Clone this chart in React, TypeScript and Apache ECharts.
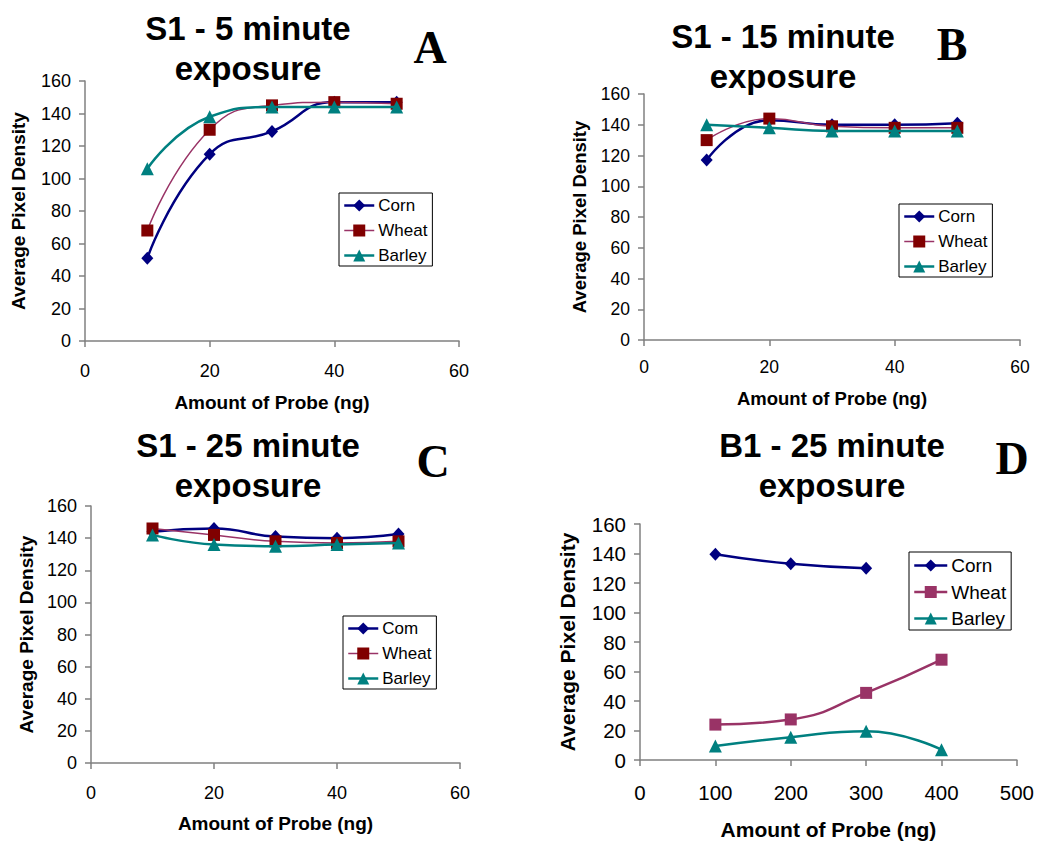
import React, { useEffect, useRef } from "react";
import * as echarts from "echarts";

// ---- Data ----
const probeS1 = [10, 20, 30, 40, 50];
const probeB1 = [100, 200, 300, 400];

const cornA = [51, 115, 129, 147, 147];
const wheatA = [68, 130, 145, 147, 146];
const barleyA = [106, 138, 144, 144, 144];

const cornB = [117, 143, 140, 140, 141];
const wheatB = [130, 144, 139, 138, 138];
const barleyB = [140, 138, 136, 136, 136];

const cornC = [144, 146, 141, 140, 142.5];
const wheatC = [146, 142, 138, 137, 138];
const barleyC = [142, 136, 135, 136, 137];

const cornD = [139.5, 133, 130];
const wheatD = [24, 27.5, 45.5, 68];
const barleyD = [9.5, 15.5, 19.5, 7];

const yTicksMax = 160;
const xMaxS1 = 60;
const xMaxB1 = 500;

const FONT = '"Liberation Sans", Arial, sans-serif';
const SERIF = '"Liberation Serif", "Times New Roman", serif';

const NAVY = "#000080";
const DARKRED = "#800000";
const PLUM = "#993366";
const TEAL = "#008080";

const pairs = (xs: number[], ys: number[]) => ys.map((y, i) => [xs[i], y]);

type Panel = {
  title1: string;
  title2: string;
  letter: string;
  tx: number;
  ty1: number;
  ty2: number;
  lx: number;
  ly: number;
  grid: { left: number; top: number; width: number; height: number };
  xMax: number;
  xInterval: number;
  tickFont: number;
  nameFont: number;
  xLabelMargin: number;
  xNameGap: number;
  yNameGap: number;
  legend: { left: number; top: number; font: number; iconW: number; gap: number };
  names: string[];
  xs: number[];
  corn: number[];
  wheat: number[];
  barley: number[];
  wheatMarker: string;
  wheatWidth: number;
};

function makeOption(p: Panel) {
  const axisColor = "#808080";
  const titleStyle = (text: string) => ({
    text,
    fontSize: 33,
    fontWeight: "bold",
    fontFamily: FONT,
    fill: "#000",
    align: "center",
    verticalAlign: "middle",
  });
  return {
    animation: false,
    backgroundColor: "#ffffff",
    grid: { ...p.grid, containLabel: false },
    graphic: [
      { type: "text", x: p.tx, y: p.ty1, style: titleStyle(p.title1) },
      { type: "text", x: p.tx, y: p.ty2, style: titleStyle(p.title2) },
      {
        type: "text",
        x: p.lx,
        y: p.ly,
        style: {
          text: p.letter,
          fontSize: 46,
          fontWeight: "bold",
          fontFamily: SERIF,
          fill: "#000",
          align: "center",
          verticalAlign: "middle",
        },
      },
    ],
    legend: {
      orient: "vertical",
      left: p.legend.left,
      top: p.legend.top,
      data: p.names,
      borderColor: "#000",
      borderWidth: 1,
      borderRadius: 0,
      padding: [4, 5, 2, 4],
      itemWidth: p.legend.iconW,
      itemHeight: 15,
      itemGap: p.legend.gap,
      lineStyle: { width: "inherit" },
      textStyle: { fontFamily: FONT, fontSize: p.legend.font, color: "#000", padding: [0, 0, 0, -1] },
    },
    xAxis: {
      type: "value",
      min: 0,
      max: p.xMax,
      interval: p.xInterval,
      name: "Amount of Probe (ng)",
      nameLocation: "middle",
      nameGap: p.xNameGap,
      nameTextStyle: { fontFamily: FONT, fontSize: p.nameFont, fontWeight: "bold", color: "#000" },
      axisLine: { show: true, lineStyle: { color: axisColor, width: 1.5 } },
      axisTick: { show: true, length: 6, lineStyle: { color: axisColor, width: 1.5 } },
      axisLabel: { fontFamily: FONT, fontSize: p.tickFont, color: "#000", margin: p.xLabelMargin },
      splitLine: { show: false },
    },
    yAxis: {
      type: "value",
      min: 0,
      max: yTicksMax,
      interval: 20,
      name: "Average Pixel Density",
      nameLocation: "middle",
      nameGap: p.yNameGap,
      nameTextStyle: { fontFamily: FONT, fontSize: p.nameFont, fontWeight: "bold", color: "#000" },
      axisLine: { show: true, lineStyle: { color: axisColor, width: 1.5 } },
      axisTick: { show: true, length: 6, lineStyle: { color: axisColor, width: 1.5 } },
      axisLabel: { fontFamily: FONT, fontSize: p.tickFont, color: "#000", margin: 14 },
      splitLine: { show: false },
    },
    series: [
      {
        name: p.names[0],
        type: "line",
        smooth: 0.5,
        data: pairs(p.xs, p.corn),
        symbol: "diamond",
        symbolSize: [12, 13],
        lineStyle: { color: NAVY, width: 2.5 },
        itemStyle: { color: NAVY },
        z: 3,
      },
      {
        name: p.names[1],
        type: "line",
        smooth: 0.5,
        data: pairs(p.xs, p.wheat),
        symbol: "rect",
        symbolSize: 12,
        lineStyle: { color: PLUM, width: p.wheatWidth },
        itemStyle: { color: p.wheatMarker },
        z: 4,
      },
      {
        name: p.names[2],
        type: "line",
        smooth: 0.5,
        data: pairs(p.xs, p.barley),
        symbol: "triangle",
        symbolSize: 13,
        lineStyle: { color: TEAL, width: 2.5 },
        itemStyle: { color: TEAL },
        z: 5,
      },
    ],
  };
}

const panels: { box: { left: number; top: number; width: number; height: number }; p: Panel }[] = [
  {
    box: { left: 0, top: 0, width: 520, height: 420 },
    p: {
      title1: "S1 - 5 minute",
      title2: "exposure",
      letter: "A",
      tx: 248,
      ty1: 28.5,
      ty2: 68,
      lx: 430,
      ly: 47,
      grid: { left: 85, top: 81, width: 374, height: 260 },
      xMax: xMaxS1,
      xInterval: 20,
      tickFont: 18,
      nameFont: 19,
      xLabelMargin: 21,
      xNameGap: 52,
      yNameGap: 57,
      legend: { left: 339, top: 193, font: 17, iconW: 30, gap: 8 },
      names: ["Corn", "Wheat", "Barley"],
      xs: probeS1,
      corn: cornA,
      wheat: wheatA,
      barley: barleyA,
      wheatMarker: DARKRED,
      wheatWidth: 1.5,
    },
  },
  {
    box: { left: 520, top: 0, width: 517, height: 420 },
    p: {
      title1: "S1 - 15 minute",
      title2: "exposure",
      letter: "B",
      tx: 263,
      ty1: 36.5,
      ty2: 76,
      lx: 432,
      ly: 44,
      grid: { left: 124, top: 94, width: 376, height: 246 },
      xMax: xMaxS1,
      xInterval: 20,
      tickFont: 17.5,
      nameFont: 18.5,
      xLabelMargin: 18,
      xNameGap: 49,
      yNameGap: 55,
      legend: { left: 379, top: 204, font: 17, iconW: 30, gap: 8 },
      names: ["Corn", "Wheat", "Barley"],
      xs: probeS1,
      corn: cornB,
      wheat: wheatB,
      barley: barleyB,
      wheatMarker: DARKRED,
      wheatWidth: 1.5,
    },
  },
  {
    box: { left: 0, top: 420, width: 520, height: 426 },
    p: {
      title1: "S1 - 25 minute",
      title2: "exposure",
      letter: "C",
      tx: 248,
      ty1: 25,
      ty2: 65.5,
      lx: 433,
      ly: 41,
      grid: { left: 91, top: 86, width: 369, height: 257 },
      xMax: xMaxS1,
      xInterval: 20,
      tickFont: 18,
      nameFont: 19,
      xLabelMargin: 21,
      xNameGap: 51,
      yNameGap: 55,
      legend: { left: 343, top: 196, font: 17, iconW: 30, gap: 8 },
      names: ["Com", "Wheat", "Barley"],
      xs: probeS1,
      corn: cornC,
      wheat: wheatC,
      barley: barleyC,
      wheatMarker: DARKRED,
      wheatWidth: 1.5,
    },
  },
  {
    box: { left: 520, top: 420, width: 517, height: 426 },
    p: {
      title1: "B1 - 25 minute",
      title2: "exposure",
      letter: "D",
      tx: 312,
      ty1: 25.5,
      ty2: 65.5,
      lx: 492,
      ly: 38,
      grid: { left: 120, top: 104, width: 378, height: 236 },
      xMax: xMaxB1,
      xInterval: 100,
      tickFont: 20.5,
      nameFont: 21,
      xLabelMargin: 22,
      xNameGap: 59,
      yNameGap: 62,
      legend: { left: 389, top: 132, font: 19, iconW: 33, gap: 7.5 },
      names: ["Corn", "Wheat", "Barley"],
      xs: probeB1,
      corn: cornD,
      wheat: wheatD,
      barley: barleyD,
      wheatMarker: PLUM,
      wheatWidth: 2.5,
    },
  },
];

function ChartPanel({ box, p }: { box: any; p: Panel }) {
  const ref = useRef<HTMLDivElement>(null);
  useEffect(() => {
    if (!ref.current) return;
    const chart = echarts.init(ref.current, undefined, { renderer: "svg" });
    chart.setOption(makeOption(p) as any);
    return () => chart.dispose();
  }, []);
  return (
    <div
      ref={ref}
      style={{ position: "absolute", left: box.left, top: box.top, width: box.width, height: box.height }}
    />
  );
}

export default function App() {
  return (
    <div
      style={{
        position: "fixed",
        left: 0,
        top: 0,
        width: 1037,
        height: 846,
        background: "#ffffff",
        overflow: "hidden",
      }}
    >
      {panels.map((pn, i) => (
        <ChartPanel key={i} box={pn.box} p={pn.p} />
      ))}
    </div>
  );
}
